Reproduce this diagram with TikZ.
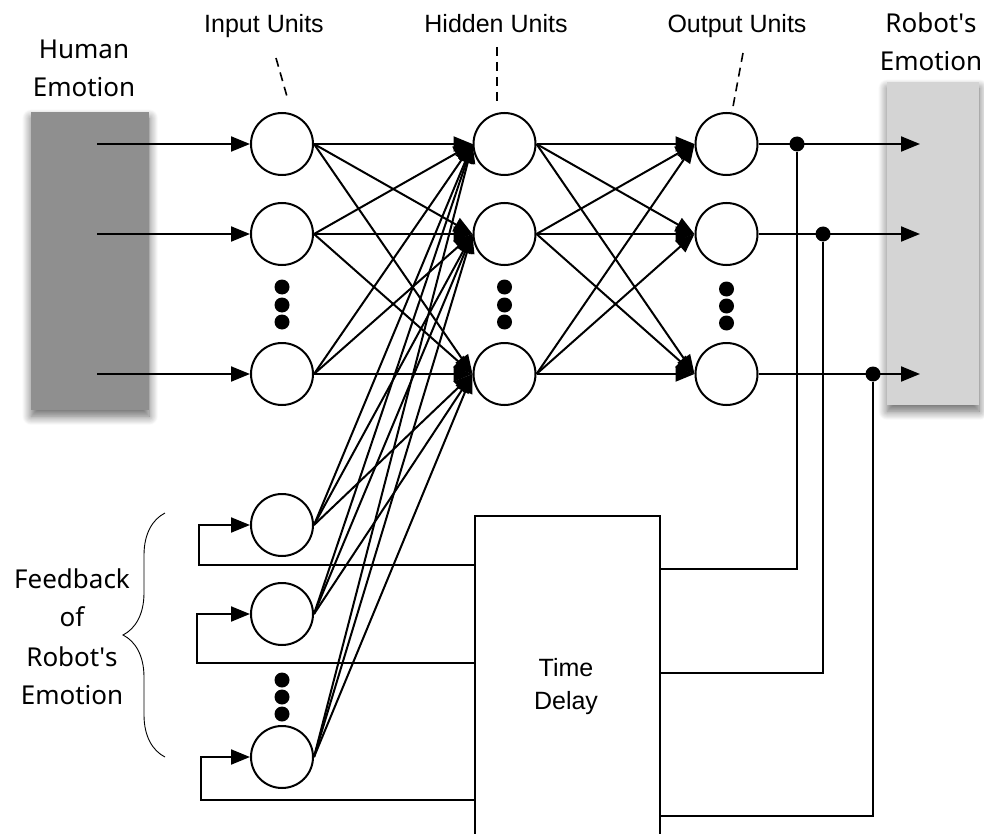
\documentclass[tikz,border=0pt]{standalone}
\usepackage{fontspec}
\setmainfont{Liberation Sans}
\newfontfamily\roundsans{Noto Sans}
\usetikzlibrary{arrows.meta,shadows.blur,decorations.pathreplacing,calc}

\begin{document}
\begin{tikzpicture}[x=1pt,y=-1pt,
  unit/.style={circle,draw,line width=2pt,fill=white,minimum size=62pt,inner sep=0pt},
  wire/.style={line width=2pt},
  feed/.style={wire,-{Triangle[length=19pt,width=15pt]}},
  ellip/.style={circle,fill=black,minimum size=15pt,inner sep=0pt},
  junction/.style={circle,fill=black,minimum size=15pt,inner sep=0pt},
  lbl/.style={font=\fontsize{25}{30}\selectfont,anchor=base,inner sep=0pt},
  rlbl/.style={font=\roundsans\fontsize{26}{30}\selectfont,anchor=base,inner sep=0pt},
  pointer/.style={line width=1.6pt,dash pattern=on 9pt off 6pt},
  softshadow/.style={blur shadow={shadow xshift=0pt,shadow yshift=-6pt,
      shadow blur radius=9pt,shadow blur steps=12,shadow opacity=60}},
]
\useasboundingbox (0,0) rectangle (984,834);
\clip (0,0) rectangle (984,834);

% side panels
\node (hbox) [softshadow,fill=black!44,minimum width=118pt,minimum height=298pt,
  anchor=north west,inner sep=0pt] at (31,112) {};
\node (rbox) [softshadow,fill=black!17,minimum width=92pt,minimum height=323pt,
  anchor=north west,inner sep=0pt] at (887,82) {};

% layer units
\foreach \n/\y in {1/144,2/234,3/374}{
  \node[unit] (in\n)  at (282,\y) {};
  \node[unit] (hid\n) at (504.5,\y) {};
  \node[unit] (out\n) at (726.5,\y) {};
}
\node[unit] (fb1) at (282,525) {};
\node[unit] (fb2) at (282,614) {};
\node[unit] (fb3) at (282,757) {};

% vertical ellipses
\foreach \y in {287,305,322}{
  \node[ellip] at (282,\y) {};
  \node[ellip] at (504.5,\y) {};
}
\foreach \y in {289,306,323} \node[ellip] at (726.5,\y) {};
\foreach \y in {680,697,714} \node[ellip] at (282,\y) {};

% time delay block
\node (td) [draw,line width=2pt,fill=white,minimum width=185pt,minimum height=340pt,
  anchor=north west,inner sep=0pt] at (474,515) {};
\node[lbl] (tdA) at (566,676) {Time};
\node[lbl] (tdB) at (566,709) {Delay};

% fully connected layers
\foreach \i in {1,2,3}{
  \foreach \j in {1,2,3}{
    \draw[feed] (in\i.east) -- (hid\j.west);
    \draw[feed] (fb\i.east) -- (hid\j.west);
    \draw[feed] (hid\i.east) -- (out\j.west);
  }
}

% external inputs and outputs
\foreach \n in {1,2,3}{
  \coordinate (src\n) at (97,0 |- in\n);
  \draw[feed] (src\n) -- (in\n.west);
  \coordinate (dst\n) at (920,0 |- out\n);
  \draw[feed] (out\n.east) -- (dst\n);
}

% junctions on the output lines
\node[junction] (j1) at (797,144) {};
\node[junction] (j2) at (823,234) {};
\node[junction] (j3) at (873,374) {};

% feedback loops through the delay
\draw[wire] (j1) |- (td.east |- 0,569);
\draw[wire] (j2) |- (td.east |- 0,673);
\draw[wire] (j3) |- (td.east |- 0,816);
\draw[feed] (td.west |- 0,565) -| ([xshift=-51pt]fb1.west) -- (fb1.west);
\draw[feed] (td.west |- 0,663) -| ([xshift=-53pt]fb2.west) -- (fb2.west);
\draw[feed] (td.west |- 0,800) -| ([xshift=-49pt]fb3.west) -- (fb3.west);

% layer captions
\node[lbl] (capIn)  at (264,33) {Input Units};
\node[lbl] (capHid) at (496,33) {Hidden Units};
\node[lbl] (capOut) at (737,33) {Output Units};
\coordinate (pIn1) at (276,58);  \coordinate (pIn2) at (288,100);
\coordinate (pHid1) at (497,47); \coordinate (pHid2) at (497,103);
\coordinate (pOut1) at (743,53); \coordinate (pOut2) at (732,112);
\draw[pointer] (pIn1) -- (pIn2);
\draw[pointer] (pHid1) -- (pHid2);
\draw[pointer] (pOut1) -- (pOut2);

\node[rlbl] (hl1) at (84,59) {Human};
\node[rlbl] (hl2) at (84,97) {Emotion};
\node[rlbl] (rl1) at (931,33) {Robot\textquotesingle s};
\node[rlbl] (rl2) at (931,71) {Emotion};

\node[rlbl] (fl1) at (72,588) {Feedback};
\node[rlbl] (fl2) at (72,626) {of};
\node[rlbl] (fl3) at (72,666) {Robot\textquotesingle s};
\node[rlbl] (fl4) at (72,704) {Emotion};

% brace grouping the feedback units
\coordinate (brB) at (165,757);
\coordinate (brT) at (165,513);
\draw[line width=0.9pt,decorate,decoration={brace,amplitude=42pt,aspect=0.5}] (brB) -- (brT);
\end{tikzpicture}
\end{document}
